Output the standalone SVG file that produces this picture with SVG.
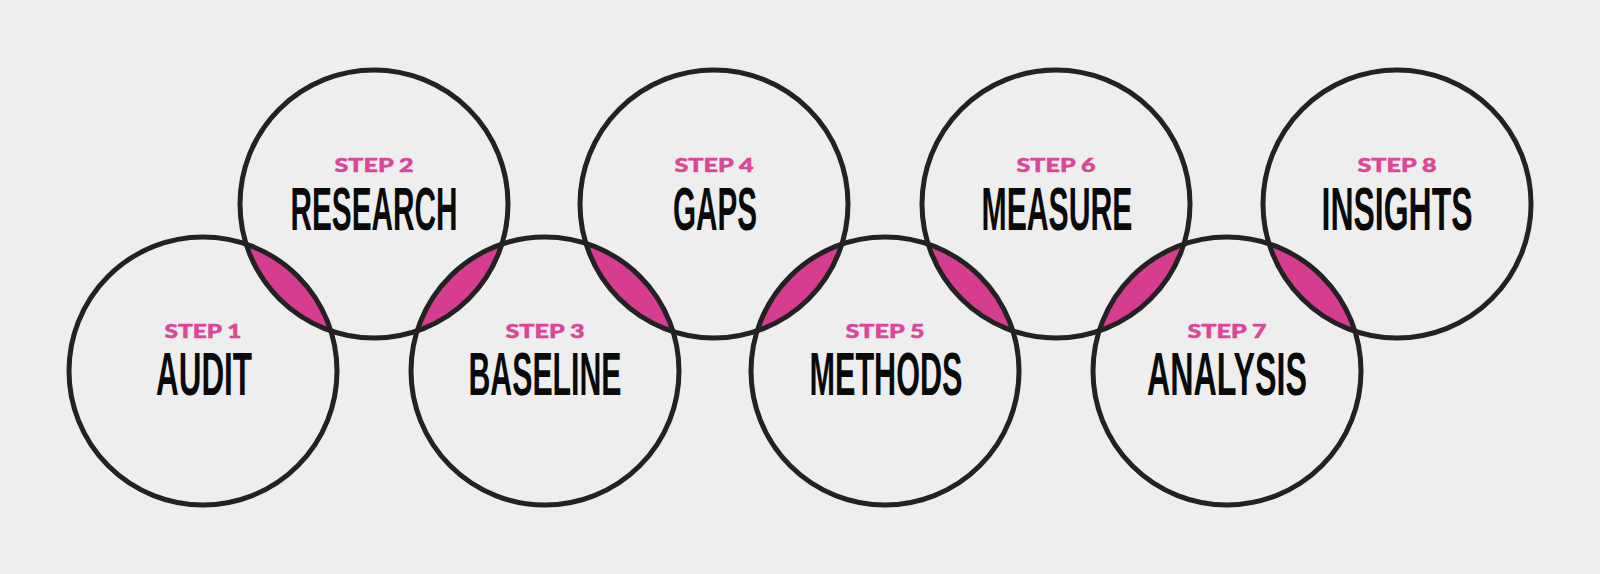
<svg xmlns="http://www.w3.org/2000/svg" width="1600" height="574" viewBox="0 0 1600 574">
  <style>
    .ring { fill: none; stroke: #222222; stroke-width: 5; }
    .lens { fill: #d63d8f; }
    .step { font-family: Lato, "Noto Sans", sans-serif; font-weight: 900; font-size: 19.5px; fill: #dc4696; stroke: #dc4696; stroke-width: 0.5; text-anchor: middle; }
    .label { font-family: "Liberation Sans", Arial, sans-serif; font-weight: bold; font-size: 61px; fill: #0a0a0a; text-anchor: middle; }
  </style>
  <defs>
    <clipPath id="c1"><circle cx="203" cy="371" r="134"/></clipPath>
    <clipPath id="c2"><circle cx="374" cy="204" r="134"/></clipPath>
    <clipPath id="c3"><circle cx="545" cy="371" r="134"/></clipPath>
    <clipPath id="c4"><circle cx="714" cy="204" r="134"/></clipPath>
    <clipPath id="c5"><circle cx="885" cy="371" r="134"/></clipPath>
    <clipPath id="c6"><circle cx="1056" cy="204" r="134"/></clipPath>
    <clipPath id="c7"><circle cx="1227" cy="371" r="134"/></clipPath>
  </defs>
  <rect x="0" y="0" width="1600" height="574" fill="#eeeeee"/>

  <g id="connectors">
    <circle class="lens" cx="374" cy="204" r="134" clip-path="url(#c1)"/>
    <circle class="lens" cx="545" cy="371" r="134" clip-path="url(#c2)"/>
    <circle class="lens" cx="714" cy="204" r="134" clip-path="url(#c3)"/>
    <circle class="lens" cx="885" cy="371" r="134" clip-path="url(#c4)"/>
    <circle class="lens" cx="1056" cy="204" r="134" clip-path="url(#c5)"/>
    <circle class="lens" cx="1227" cy="371" r="134" clip-path="url(#c6)"/>
    <circle class="lens" cx="1397" cy="204" r="134" clip-path="url(#c7)"/>
  </g>

  <g id="step1">
    <circle class="ring" cx="203" cy="371" r="134"/>
    <text class="step" x="203" y="338" textLength="77" lengthAdjust="spacingAndGlyphs">STEP 1</text>
    <text class="label" x="204" y="394.5" textLength="96" lengthAdjust="spacingAndGlyphs">AUDIT</text>
  </g>
  <g id="step2">
    <circle class="ring" cx="374" cy="204" r="134"/>
    <text class="step" x="374" y="171.5" textLength="79" lengthAdjust="spacingAndGlyphs">STEP 2</text>
    <text class="label" x="374" y="229.5" textLength="167" lengthAdjust="spacingAndGlyphs">RESEARCH</text>
  </g>
  <g id="step3">
    <circle class="ring" cx="545" cy="371" r="134"/>
    <text class="step" x="545" y="338" textLength="79" lengthAdjust="spacingAndGlyphs">STEP 3</text>
    <text class="label" x="545" y="394.5" textLength="153" lengthAdjust="spacingAndGlyphs">BASELINE</text>
  </g>
  <g id="step4">
    <circle class="ring" cx="714" cy="204" r="134"/>
    <text class="step" x="714" y="171.5" textLength="79" lengthAdjust="spacingAndGlyphs">STEP 4</text>
    <text class="label" x="715" y="229.5" textLength="84" lengthAdjust="spacingAndGlyphs">GAPS</text>
  </g>
  <g id="step5">
    <circle class="ring" cx="885" cy="371" r="134"/>
    <text class="step" x="885" y="338" textLength="79" lengthAdjust="spacingAndGlyphs">STEP 5</text>
    <text class="label" x="886" y="394.5" textLength="153" lengthAdjust="spacingAndGlyphs">METHODS</text>
  </g>
  <g id="step6">
    <circle class="ring" cx="1056" cy="204" r="134"/>
    <text class="step" x="1056" y="171.5" textLength="79" lengthAdjust="spacingAndGlyphs">STEP 6</text>
    <text class="label" x="1057" y="229.5" textLength="151" lengthAdjust="spacingAndGlyphs">MEASURE</text>
  </g>
  <g id="step7">
    <circle class="ring" cx="1227" cy="371" r="134"/>
    <text class="step" x="1227" y="338" textLength="79" lengthAdjust="spacingAndGlyphs">STEP 7</text>
    <text class="label" x="1227" y="394.5" textLength="160" lengthAdjust="spacingAndGlyphs">ANALYSIS</text>
  </g>
  <g id="step8">
    <circle class="ring" cx="1397" cy="204" r="134"/>
    <text class="step" x="1397" y="171.5" textLength="79" lengthAdjust="spacingAndGlyphs">STEP 8</text>
    <text class="label" x="1397" y="229.5" textLength="151" lengthAdjust="spacingAndGlyphs">INSIGHTS</text>
  </g>
</svg>
